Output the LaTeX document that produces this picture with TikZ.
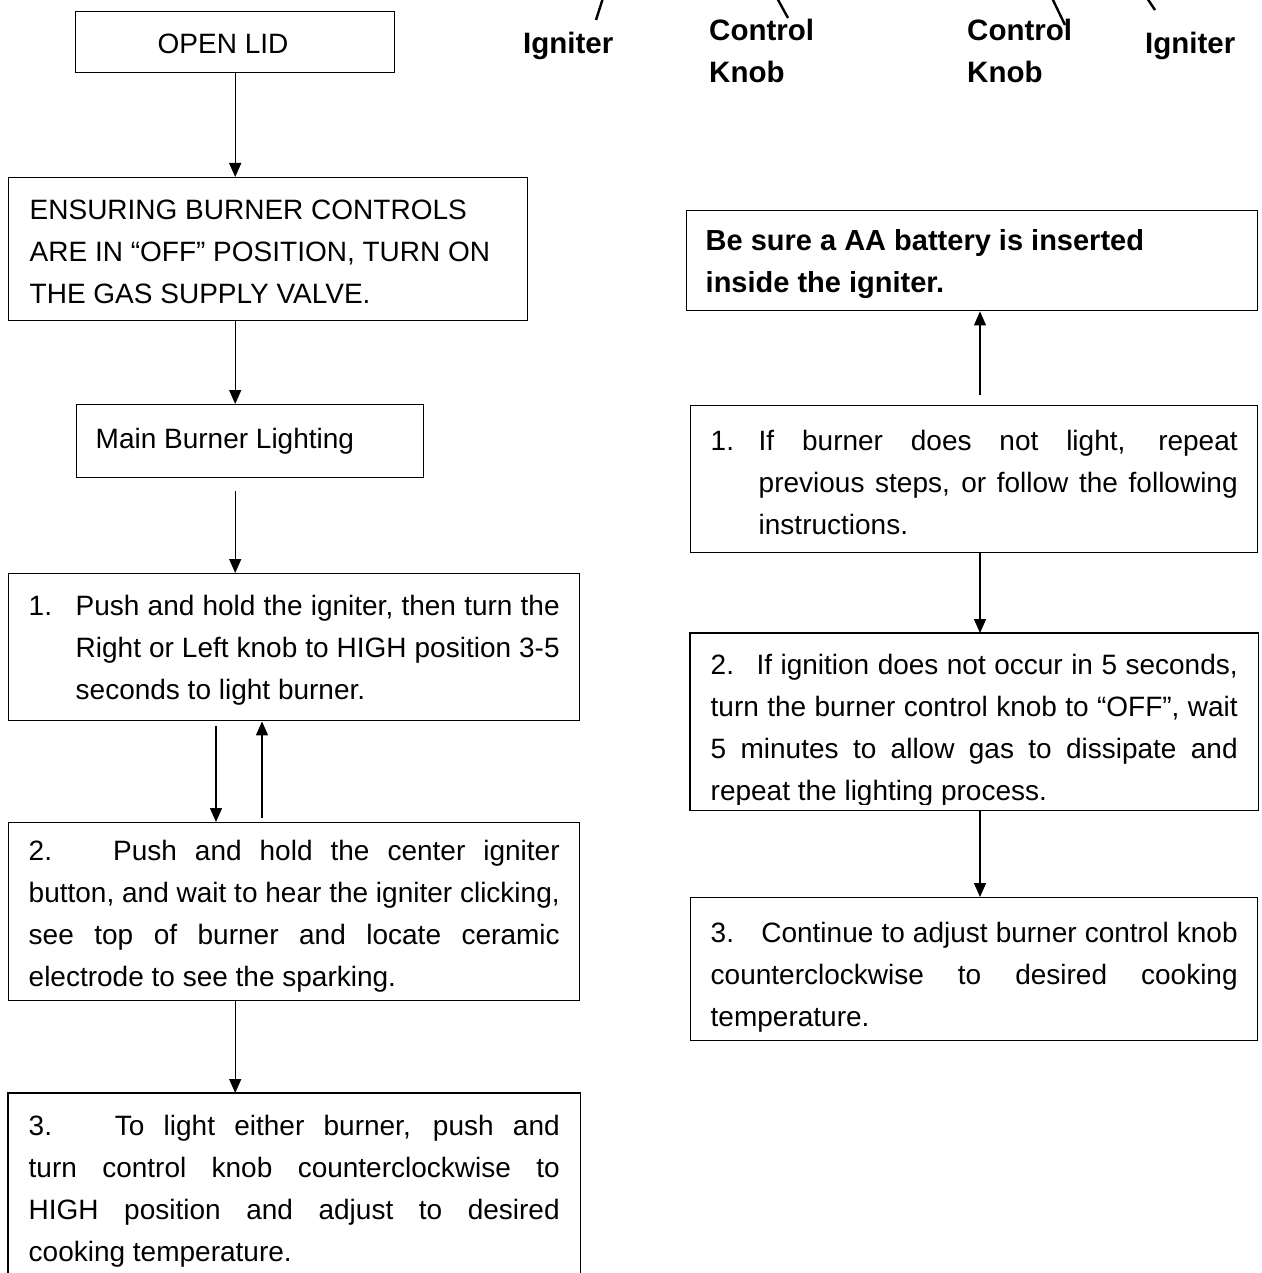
\documentclass[tikz,border=0pt]{standalone}
\usepackage{fontspec}
\setmainfont{Liberation Sans}
\usepackage{tikz}
\usetikzlibrary{arrows.meta, positioning}

% text block of fixed height, first baseline #1 below the top
\newcommand{\boxlines}[4][42pt]{\parbox[c][#2][t]{#3}{\rule{0pt}{#1}#4}}
% one justified line
\newcommand{\jl}[2][\linewidth]{\makebox[#1][s]{#2}}

\begin{document}
\begin{tikzpicture}[
    x=1pt, y=-1pt,
    font=\fontsize{28}{42}\selectfont,
    stepbox/.style={rectangle, draw, line width=1.4pt, inner xsep=20pt, inner ysep=0pt, anchor=north west},
    tag/.style={font=\bfseries\fontsize{29.5}{42}\selectfont, inner sep=0pt, anchor=north west},
    arrow/.style={-{Triangle[length=14pt, width=12pt]}, line width=1.4pt},
    lead/.style={line width=2.4pt}
]
\useasboundingbox (0,0) rectangle (1261,1273);

% Labels along the top
\node[tag] (ignL) at (523,0) {\boxlines[53pt]{60pt}{100pt}{Igniter}};
\node[tag] (knobL) at (709,0) {\boxlines[40pt]{90pt}{110pt}{Control\\Knob}};
\node[tag] (knobR) at (967,0) {\boxlines[40pt]{90pt}{110pt}{Control\\Knob}};
\node[tag] (ignR) at (1145,0) {\boxlines[53pt]{60pt}{100pt}{Igniter}};
\draw[lead] (ignL.north west) ++(73,20) -- ++(7,-22);
\draw[lead] (knobL.north west) ++(79,18) -- ++(-11,-20);
\draw[lead] (knobR.north west) ++(98,25) -- ++(-13,-27);
\draw[lead] (ignR.north west) ++(10,10) -- ++(-8,-12);

% Main flow - left column
\node[stepbox, inner xsep=0pt] (lid) at (75,11) {\boxlines{61pt}{319pt}{\hspace*{82pt}OPEN LID}};
\node[stepbox, inner xsep=21pt] (ensure) at (8,177) {\boxlines{143pt}{477pt}{ENSURING BURNER CONTROLS\\ARE IN “OFF” POSITION, TURN ON\\THE GAS SUPPLY VALVE.}};
\node[stepbox, inner xsep=19pt] (main) at (76,404) {\boxlines[44pt]{73pt}{309pt}{Main Burner Lighting}};
\node[stepbox] (push) at (8,573) {\boxlines{147pt}{531pt}{%
  \makebox[47pt][l]{1.}\jl[484pt]{Push and hold the igniter, then turn the}\\
  \hspace*{47pt}\jl[484pt]{Right or Left knob to HIGH position 3-5}\\
  \hspace*{47pt}seconds to light burner.}};
\node[stepbox] (spark) at (8,822) {\boxlines[38pt]{178pt}{531pt}{%
  \jl{2.\hspace{20pt} Push and hold the center igniter}\\
  \jl{button, and wait to hear the igniter clicking,}\\
  \jl{see top of burner and locate ceramic}\\
  electrode to see the sparking.}};
\node[stepbox, draw=none] (light) at (8,1093) {\boxlines{190pt}{531pt}{%
  \jl{3.\hspace{18pt} To light either burner, push and}\\
  \jl{turn control knob counterclockwise to}\\
  \jl{HIGH position and adjust to desired}\\
  cooking temperature.}};
\draw[line width=1.4pt] (light.south west) -- (light.north west) -- (light.north east) -- (light.south east);

% Right column
\node[stepbox, inner xsep=19pt, font=\bfseries\fontsize{29}{42}\selectfont] (battery) at (686,210) {\boxlines[40pt]{100pt}{533pt}{Be sure a AA battery is inserted\\inside the igniter.}};
\node[stepbox] (retry) at (690,405) {\boxlines[45pt]{147pt}{527pt}{%
  \makebox[48pt][l]{1.}\jl[479pt]{If burner does not light, repeat}\\
  \hspace*{48pt}\jl[479pt]{previous steps, or follow the following}\\
  \hspace*{48pt}instructions.}};
\begin{scope}
\clip (680,625) rectangle (1265,804);
\node[stepbox, draw=none] (wait) at (690,633) {\boxlines[41pt]{176pt}{527pt}{%
  \jl{2.\hspace{10pt} If ignition does not occur in 5 seconds,}\\
  \jl{turn the burner control knob to “OFF”, wait}\\
  \jl{5 minutes to allow gas to dissipate and}\\
  repeat the lighting process.}};
\end{scope}
\draw[line width=1.4pt] (wait.north west) rectangle (wait.south east);
\node[stepbox] (adjust) at (690,897) {\boxlines[45pt]{143pt}{527pt}{%
  \jl{3.\hspace{16pt} Continue to adjust burner control knob}\\
  \jl{counterclockwise to desired cooking}\\
  temperature.}};

% Arrows
\coordinate (dn) at (216,0);
\coordinate (up) at (262,0);
\coordinate (rcol) at (980,0);
\draw[arrow] (lid.south) -- (lid.south |- ensure.north);
\draw[arrow] (ensure.south -| lid.south) -- (main.north -| lid.south);
\draw[arrow] (main.south -| lid.south) ++(0,13) -- (push.north -| lid.south);
\draw[arrow] (push.south -| dn) ++(0,5) -- (spark.north -| dn);
\draw[arrow] (spark.north -| up) ++(0,-4) -- (push.south -| up);
\draw[arrow] (spark.south -| lid.south) -- (light.north -| lid.south);
\draw[arrow] (retry.north -| rcol) ++(0,-10) -- (battery.south -| rcol);
\draw[arrow] (retry.south -| rcol) -- (wait.north -| rcol);
\draw[arrow] (wait.south -| rcol) -- (adjust.north -| rcol);

\end{tikzpicture}
\end{document}
